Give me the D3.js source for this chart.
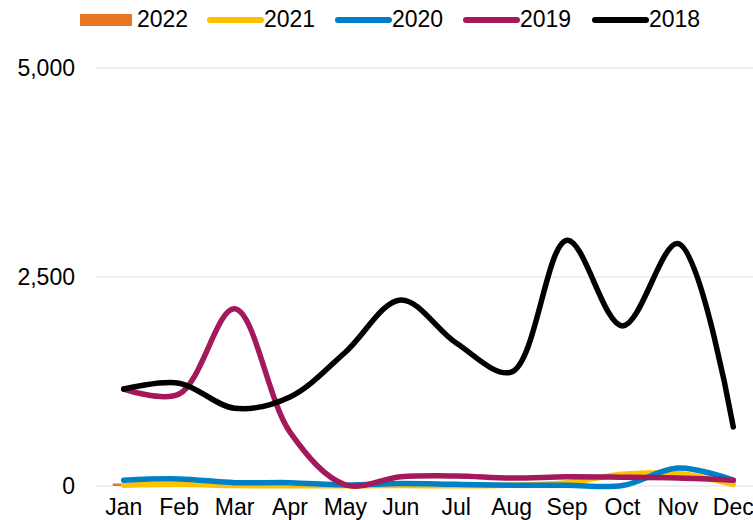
<!DOCTYPE html>
<html>
<head>
<meta charset="utf-8">
<script src="https://cdn.jsdelivr.net/npm/d3@7"></script>
<style>
body { margin: 0; background: #fff; }
svg text { font-family: "Liberation Sans", Arial, sans-serif; fill: #000; }
</style>
</head>
<body>
<div id="chart"></div>
<script>
var months = ["Jan", "Feb", "Mar", "Apr", "May", "Jun", "Jul", "Aug", "Sep", "Oct", "Nov", "Dec"];
var yTicks = [0, 2500, 5000];

var s2022 = [30, null, null, null, null, null, null, null, null, null, null, null];
var s2021 = [10, 20, 5, 2, 2, 5, 2, 10, 40, 140, 150, 20];
var s2020 = [70, 85, 40, 40, 12, 30, 20, 10, 10, 5, 215, 70];
var s2019 = [1160, 1100, 2120, 645, 15, 110, 120, 95, 110, 105, 95, 70];
var s2018 = [1160, 1230, 930, 1065, 1600, 2225, 1710, 1365, 2940, 1915, 2900, 705];

var lineSeries = [
  {name: "2021", values: s2021, color: "#ffc000"},
  {name: "2020", values: s2020, color: "#0080c6"},
  {name: "2019", values: s2019, color: "#a3195b"},
  {name: "2018", values: s2018, color: "#000000"}
];

var width = 753, height = 520;
var svg = d3.select("#chart").append("svg")
  .attr("width", width).attr("height", height);

var x = d3.scaleBand().domain(months).range([96, 761]);
var y = d3.scaleLinear().domain([0, 5000]).range([486, 68]);

// gridlines
svg.append("g").selectAll("line").data(yTicks).enter().append("line")
  .attr("x1", 96).attr("x2", width)
  .attr("y1", function(d) { return y(d); })
  .attr("y2", function(d) { return y(d); })
  .style("stroke", "#e0e0e0").style("stroke-width", 1);

svg.append("g").selectAll("text").data(yTicks).enter().append("text")
  .attr("x", 75).attr("y", function(d) { return y(d); })
  .attr("dy", "0.35em").attr("text-anchor", "end")
  .style("font-size", "23px")
  .text(function(d) { return d3.format(",")(d); });

svg.append("g").selectAll("text").data(months).enter().append("text")
  .attr("x", function(d) { return x(d) + x.bandwidth() / 2; })
  .attr("y", 515).attr("text-anchor", "middle")
  .style("font-size", "23px")
  .text(function(d) { return d; });

// 2022 columns
svg.append("g").selectAll("rect")
  .data(months.map(function(m, i) { return {m: m, v: s2022[i]}; })
    .filter(function(d) { return d.v != null; }))
  .enter().append("rect")
  .attr("x", function(d) { return x(d.m) + x.bandwidth() / 2 - 11; })
  .attr("width", 22)
  .attr("y", function(d) { return y(d.v); })
  .attr("height", function(d) { return y(0) - y(d.v); })
  .style("fill", "#e87722");

var line = d3.line()
  .defined(function(d) { return d != null; })
  .x(function(d, i) { return x(months[i]) + x.bandwidth() / 2; })
  .y(function(d) { return y(d); })
  .curve(d3.curveCatmullRom.alpha(0.5));

svg.append("g").selectAll("path").data(lineSeries).enter().append("path")
  .attr("d", function(s) { return line(s.values); })
  .style("fill", "none")
  .style("stroke", function(s) { return s.color; })
  .style("stroke-width", 5.5)
  .style("stroke-linecap", "round")
  .style("stroke-linejoin", "round");

// legend
var legend = [
  {name: "2022", color: "#e87722", x: 80, rect: true},
  {name: "2021", color: "#ffc000", x: 207},
  {name: "2020", color: "#0080c6", x: 335},
  {name: "2019", color: "#a3195b", x: 463},
  {name: "2018", color: "#000000", x: 592}
];
var lg = svg.append("g").selectAll("g").data(legend).enter().append("g");
lg.filter(function(d) { return d.rect; }).append("rect")
  .attr("x", function(d) { return d.x; }).attr("y", 14)
  .attr("width", 52).attr("height", 12)
  .style("fill", function(d) { return d.color; });
lg.filter(function(d) { return !d.rect; }).append("line")
  .attr("x1", function(d) { return d.x + 3; }).attr("x2", function(d) { return d.x + 54; })
  .attr("y1", 20).attr("y2", 20)
  .style("stroke", function(d) { return d.color; })
  .style("stroke-width", 6).style("stroke-linecap", "round");
lg.append("text")
  .attr("x", function(d) { return d.x + 57; }).attr("y", 19)
  .attr("dy", "0.35em").style("font-size", "23px")
  .text(function(d) { return d.name; });
</script>
</body>
</html>
